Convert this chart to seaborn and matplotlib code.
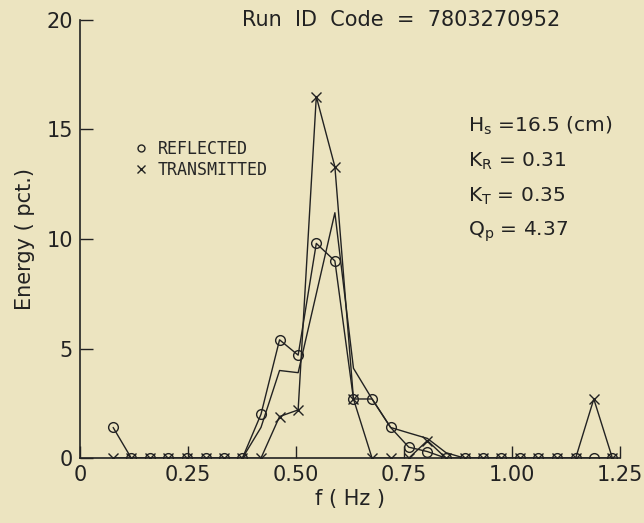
import pandas as pd
import matplotlib
matplotlib.use("Agg")
import matplotlib.pyplot as plt
from matplotlib.lines import Line2D
import seaborn as sns

# frequency bins (Hz) and energy (pct.)
freq = [0.077, 0.119, 0.162, 0.205, 0.248, 0.291, 0.333, 0.376, 0.419, 0.462,
        0.505, 0.547, 0.590, 0.633, 0.676, 0.719, 0.761, 0.804, 0.847, 0.890,
        0.933, 0.975, 1.018, 1.061, 1.104, 1.147, 1.189, 1.232]
reflected = [1.4, 0, 0, 0, 0, 0, 0, 0, 2.0, 5.4,
             4.7, 9.8, 9.0, 2.7, 2.7, 1.4, 0.5, 0.3, 0, 0,
             0, 0, 0, 0, 0, 0, 0, 0]
transmitted = [0, 0, 0, 0, 0, 0, 0, 0, 0, 1.9,
               2.2, 16.5, 13.3, 2.7, 0, 0, 0, 0.8, 0, 0,
               0, 0, 0, 0, 0, 0, 2.7, 0]
third_curve = [0, 0, 0, 0, 0, 0, 0, 0, 1.4, 4.0,
               3.9, 7.5, 11.2, 4.1, 2.7, 1.4, 1.15, 0.9, 0.25, 0,
               0, 0, 0, 0, 0, 0, 0, 0]

run_id = "7803270952"
params = [r"H$_\mathregular{s}$ =16.5 (cm)",
          r"K$_\mathregular{R}$ = 0.31",
          r"K$_\mathregular{T}$ = 0.35",
          r"Q$_\mathregular{p}$ = 4.37"]

df = pd.DataFrame({"f": freq, "reflected": reflected,
                   "transmitted": transmitted, "third": third_curve})

sns.set_theme(style="ticks")
plt.rcParams["font.family"] = ["DejaVu Sans"]
bg = "#ece4c0"
ink = "#222222"

fig = plt.figure(figsize=(6.44, 5.23), dpi=100, facecolor=bg)
ax = fig.add_axes([0.124, 0.124, 0.839, 0.838], facecolor=bg)

sns.lineplot(data=df, x="f", y="third", ax=ax, color=ink, linewidth=1.0)
sns.lineplot(data=df, x="f", y="reflected", ax=ax, color=ink, linewidth=1.0,
             marker="o", markersize=7, markerfacecolor="none",
             markeredgecolor=ink, markeredgewidth=1.0)
sns.lineplot(data=df, x="f", y="transmitted", ax=ax, color=ink, linewidth=1.0,
             marker="x", markersize=7, markeredgecolor=ink, markeredgewidth=1.0)

ax.set_xlim(0, 1.25)
ax.set_ylim(0, 20)
ax.set_xticks([0, 0.25, 0.5, 0.75, 1.0, 1.25])
ax.set_xticklabels(["0", "0.25", "0.50", "0.75", "1.00", "1.25"])
ax.set_yticks([0, 5, 10, 15, 20])
ax.tick_params(axis="both", direction="in", length=9, width=1.0,
               colors=ink, labelsize=15, pad=5)
sns.despine(ax=ax)
for s in ["left", "bottom"]:
    ax.spines[s].set_color(ink)
    ax.spines[s].set_linewidth(1.2)

ax.set_xlabel("f ( Hz )", fontsize=15, color=ink, labelpad=3)
ax.set_ylabel("Energy ( pct.)", fontsize=15, color=ink, labelpad=8)

ax.text(0.594, 1.0, "Run  ID  Code  =  " + run_id, transform=ax.transAxes,
        ha="center", va="center", fontsize=15, color=ink)

ys = [0.745, 0.666, 0.586, 0.507]
for txt, y in zip(params, ys):
    ax.text(0.719, y, txt, transform=ax.transAxes, ha="left",
            va="baseline", fontsize=14.5, color=ink)

handles = [Line2D([], [], linestyle="none", marker="o", markersize=5,
                  markerfacecolor="none", markeredgecolor=ink),
           Line2D([], [], linestyle="none", marker="x", markersize=6,
                  markeredgecolor=ink)]
ax.legend(handles, ["REFLECTED", "TRANSMITTED"], loc="upper left",
          bbox_to_anchor=(0.07, 0.76), frameon=False, handlelength=1.0,
          handletextpad=0.5, labelspacing=0.15,
          prop={"family": "DejaVu Sans Mono", "size": 12})

fig.savefig("out.png", dpi=100, facecolor=bg)
